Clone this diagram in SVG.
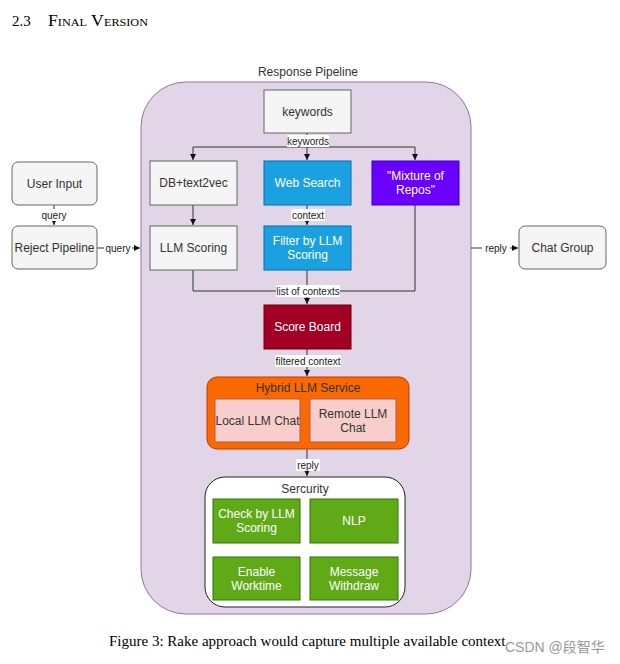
<svg xmlns="http://www.w3.org/2000/svg" width="620" height="664" viewBox="0 0 620 664">
<style>
.t{font-family:"Liberation Sans",Arial,sans-serif;font-size:12px;text-anchor:middle;dominant-baseline:central}
.dark{fill:#333}
.w{fill:#fff}
.gray{fill:#f5f5f5;stroke:#666;stroke-width:1}
.el{font-family:"Liberation Sans",Arial,sans-serif;font-size:10px;text-anchor:middle;dominant-baseline:central;fill:#222}
.ln{fill:none;stroke:#333;stroke-width:1}
.lb{fill:#fff}
</style>
<defs>
<marker id="ah" viewBox="0 0 8 8" refX="8" refY="4" markerWidth="6" markerHeight="6" orient="auto" markerUnits="userSpaceOnUse">
<path d="M0,0 L8,4 L0,8 Z" fill="#111"/>
</marker>
</defs>
<rect width="620" height="664" fill="#fff"/>
<text x="12" y="26" font-family="Liberation Serif,'Times New Roman',serif" font-size="15" fill="#000">2.3</text>
<text x="48" y="26" font-family="Liberation Serif,'Times New Roman',serif" font-size="16" fill="#000" style="font-variant:small-caps" textLength="100" lengthAdjust="spacingAndGlyphs">Final Version</text>

<g id="response-pipeline">
<rect x="141" y="82" width="330" height="532" rx="45" fill="#e1d5e7" stroke="#9673a6"/>
<text class="t dark" x="308" y="72">Response Pipeline</text>
</g>

<g id="connectors">
<path class="ln" d="M54,205 V225" marker-end="url(#ah)"/>
<path class="ln" d="M97,248 H140" marker-end="url(#ah)"/>
<path class="ln" d="M471,248 H518" marker-end="url(#ah)"/>
<path class="ln" d="M307,133 V147"/>
<path class="ln" d="M193,147 H415"/>
<path class="ln" d="M193,147 V160" marker-end="url(#ah)"/>
<path class="ln" d="M307,147 V160" marker-end="url(#ah)"/>
<path class="ln" d="M415,147 V160" marker-end="url(#ah)"/>
<path class="ln" d="M193,205 V225" marker-end="url(#ah)"/>
<path class="ln" d="M307,205 V225" marker-end="url(#ah)"/>
<path class="ln" d="M193,270 V291 H415 V205"/>
<path class="ln" d="M307,270 V304" marker-end="url(#ah)"/>
<path class="ln" d="M307,349 V376" marker-end="url(#ah)"/>
<path class="ln" d="M307,449 V476" marker-end="url(#ah)"/>
<rect class="lb" x="38" y="209" width="32" height="12"/>
<text class="el" x="54" y="215">query</text>
<rect class="lb" x="104" y="242" width="28" height="12"/>
<text class="el" x="118" y="248">query</text>
<rect class="lb" x="482" y="242" width="28" height="12"/>
<text class="el" x="496" y="248">reply</text>
<rect class="lb" x="287" y="135" width="42" height="12"/>
<text class="el" x="308" y="141">keywords</text>
<rect class="lb" x="291" y="209" width="34" height="12"/>
<text class="el" x="308" y="215">context</text>
<rect class="lb" x="276" y="285" width="64" height="12"/>
<text class="el" x="308" y="291">list of contexts</text>
<rect class="lb" x="275" y="355" width="66" height="12"/>
<text class="el" x="308" y="361">filtered context</text>
<rect class="lb" x="296" y="459" width="24" height="12"/>
<text class="el" x="308" y="465">reply</text>
</g>

<g id="user-input"><rect class="gray" x="12" y="162" width="85" height="43" rx="6"/><text class="t dark" x="54.5" y="183.5">User Input</text></g>
<g id="reject-pipeline"><rect class="gray" x="12" y="226" width="85" height="43" rx="6"/><text class="t dark" x="54.5" y="247.5">Reject Pipeline</text></g>
<g id="chat-group"><rect class="gray" x="519" y="226" width="87" height="43" rx="6"/><text class="t dark" x="562.5" y="247.5">Chat Group</text></g>

<g id="keywords"><rect class="gray" x="264" y="90" width="87" height="43"/><text class="t dark" x="307.5" y="111.5">keywords</text></g>
<g id="db-text2vec"><rect class="gray" x="150" y="161" width="87" height="44"/><text class="t dark" x="193.5" y="183">DB+text2vec</text></g>
<g id="web-search"><rect x="264" y="161" width="87" height="44" fill="#1ba1e2" stroke="#006eaf"/><text class="t w" x="307.5" y="183">Web Search</text></g>
<g id="mixture-of-repos"><rect x="372" y="161" width="87" height="44" fill="#6a00ff" stroke="#3700cc"/><text class="t w" x="415.5" y="176">"Mixture of</text><text class="t w" x="415.5" y="190">Repos"</text></g>
<g id="llm-scoring"><rect class="gray" x="150" y="226" width="87" height="44"/><text class="t dark" x="193.5" y="248">LLM Scoring</text></g>
<g id="filter-llm"><rect x="264" y="226" width="87" height="44" fill="#1ba1e2" stroke="#006eaf"/><text class="t w" x="307.5" y="241">Filter by LLM</text><text class="t w" x="307.5" y="255">Scoring</text></g>
<g id="score-board"><rect x="264" y="305" width="87" height="44" fill="#a20025" stroke="#6f0000"/><text class="t w" x="307.5" y="327">Score Board</text></g>

<g id="hybrid-llm-service">
<rect x="207" y="377" width="202" height="72" rx="10" fill="#fa6800" stroke="#c73500"/>
<text class="t dark" x="308" y="387.5">Hybrid LLM Service</text>
<g id="local-llm-chat"><rect x="215" y="399" width="85" height="43" fill="#f8cecc" stroke="#b85450"/><text class="t dark" x="257.5" y="420.5" font-size="11.7">Local LLM Chat</text></g>
<g id="remote-llm-chat"><rect x="310" y="399" width="86" height="43" fill="#f8cecc" stroke="#b85450"/><text class="t dark" x="353" y="413.5">Remote LLM</text><text class="t dark" x="353" y="427.5">Chat</text></g>
</g>

<g id="security">
<rect x="205" y="477" width="200" height="130" rx="20" fill="#fff" stroke="#222"/>
<text class="t dark" x="305" y="489">Sercurity</text>
<g id="check-llm"><rect x="213" y="499" width="87" height="44" fill="#60a917" stroke="#2d7600"/><text class="t w" x="256.5" y="514">Check by LLM</text><text class="t w" x="256.5" y="528">Scoring</text></g>
<g id="nlp"><rect x="310" y="499" width="88" height="44" fill="#60a917" stroke="#2d7600"/><text class="t w" x="354" y="521">NLP</text></g>
<g id="enable-worktime"><rect x="213" y="557" width="87" height="43" fill="#60a917" stroke="#2d7600"/><text class="t w" x="256.5" y="571.5">Enable</text><text class="t w" x="256.5" y="585.5">Worktime</text></g>
<g id="message-withdraw"><rect x="310" y="557" width="88" height="43" fill="#60a917" stroke="#2d7600"/><text class="t w" x="354" y="571.5">Message</text><text class="t w" x="354" y="585.5">Withdraw</text></g>
</g>

<text x="109" y="646" font-family="Liberation Serif,'Times New Roman',serif" font-size="15" fill="#000">Figure 3: Rake approach would capture multiple available context</text>
<text x="505" y="652" font-family="Liberation Sans,'Noto Sans CJK SC',sans-serif" font-size="14" fill="#999">CSDN @段智华</text>
</svg>
